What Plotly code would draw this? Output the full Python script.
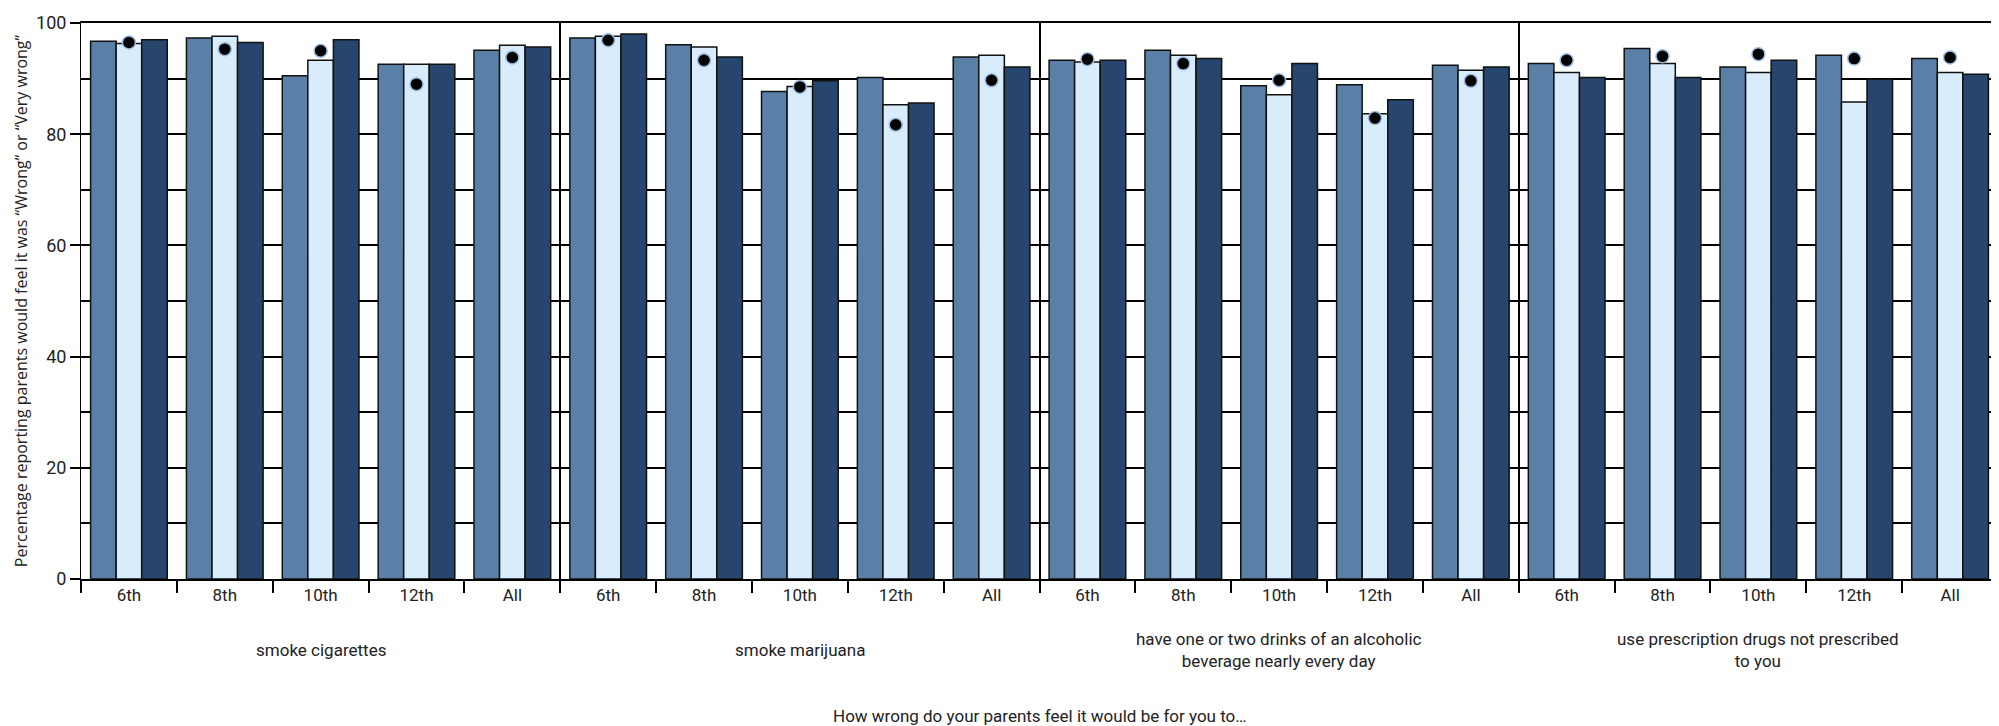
import plotly.graph_objects as go
from plotly.subplots import make_subplots

grades = ["6th", "8th", "10th", "12th", "All"]
behaviors = [
    "smoke cigarettes",
    "smoke marijuana",
    "have one or two drinks of an alcoholic<br>beverage nearly every day",
    "use prescription drugs not prescribed<br>to you",
]

# bar series, one list per behavior (grade order above)
series_1 = [
    [96.7, 97.3, 90.5, 92.6, 95.1],
    [97.3, 96.1, 87.7, 90.2, 93.9],
    [93.3, 95.1, 88.7, 88.9, 92.4],
    [92.7, 95.4, 92.1, 94.2, 93.6],
]
series_2 = [
    [96.3, 97.6, 93.3, 92.6, 96.0],
    [97.6, 95.7, 88.6, 85.3, 94.2],
    [93.0, 94.2, 87.1, 83.7, 91.5],
    [91.1, 92.7, 91.1, 85.8, 91.1],
]
series_3 = [
    [97.0, 96.5, 97.0, 92.6, 95.7],
    [98.0, 93.9, 89.6, 85.6, 92.1],
    [93.3, 93.6, 92.7, 86.2, 92.1],
    [90.2, 90.2, 93.3, 89.9, 90.8],
]
# comparison points
points = [
    [96.5, 95.3, 95.0, 89.0, 93.8],
    [96.9, 93.3, 88.5, 81.7, 89.7],
    [93.5, 92.7, 89.7, 82.9, 89.6],
    [93.3, 94.0, 94.4, 93.6, 93.8],
]

y_title = "Percentage reporting parents would feel it was \u201cWrong\u201d or \u201cVery wrong\u201d"
x_title = "How wrong do your parents feel it would be for you to\u2026"

bar_colors = ["#5b80a8", "#d8ecfc", "#26466e"]
narrow = "Roboto, sans-serif"

fig = make_subplots(rows=1, cols=4, shared_yaxes=True, horizontal_spacing=0)

for i in range(4):
    col = i + 1
    for name, vals, color in zip(["Series 1", "Series 2", "Series 3"],
                                 [series_1, series_2, series_3], bar_colors):
        fig.add_trace(go.Bar(x=grades, y=vals[i], name=name, marker_color=color,
                             marker_line=dict(color="#111111", width=1.5),
                             showlegend=False), row=1, col=col)
    fig.add_trace(go.Scatter(x=grades, y=points[i], mode="markers", name="Comparison",
                             marker=dict(color="black", size=13,
                                         line=dict(color="#9dbde2", width=1.5)),
                             showlegend=False), row=1, col=col)
    xref = "x domain" if col == 1 else f"x{col} domain"
    fig.add_annotation(text=behaviors[i], xref=xref, yref="paper", x=0.5, y=-0.127,
                       showarrow=False, yanchor="middle",
                       font=dict(family=narrow, size=17, color="#222"))

fig.update_xaxes(showline=True, mirror=True, linecolor="black", linewidth=2,
                 ticks="outside", tickson="boundaries", ticklen=12, tickwidth=1.5,
                 tickcolor="black", showgrid=False,
                 tickfont=dict(family=narrow, size=17, color="#222"))
fig.update_yaxes(range=[0, 100], dtick=20, showline=True, mirror=True, linecolor="black",
                 linewidth=1, showgrid=True, gridcolor="black", gridwidth=1.5,
                 zeroline=False,
                 minor=dict(dtick=10, showgrid=True, gridcolor="black", gridwidth=1.5),
                 tickfont=dict(family=narrow, size=18, color="#222"))
fig.update_yaxes(ticks="outside", ticklen=10, tickwidth=1.5, tickcolor="black",
                 automargin=False,
                 title=dict(text=y_title, font=dict(family="Open Sans, sans-serif", size=16, color="#222"),
                            standoff=4),
                 row=1, col=1)

fig.add_annotation(text=x_title, xref="paper", yref="paper", x=0.5, y=-0.247,
                   showarrow=False, yanchor="middle",
                   font=dict(family=narrow, size=17, color="#222"))

fig.update_layout(
    width=1999, height=726,
    barmode="group", bargap=0.2, bargroupgap=0,
    plot_bgcolor="white", paper_bgcolor="white",
    margin=dict(l=73, r=9, t=15, b=155),
    showlegend=False,
)

fig.write_html("out.html")
